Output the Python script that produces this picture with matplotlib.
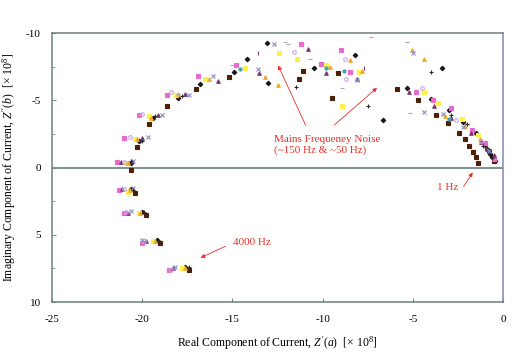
import matplotlib.pyplot as plt
from matplotlib.ticker import MultipleLocator

plt.rcParams['font.family'] = ['Liberation Serif', 'DejaVu Serif']
plt.rcParams['mathtext.fontset'] = 'custom'
plt.rcParams['mathtext.rm'] = 'Liberation Serif'
plt.rcParams['mathtext.it'] = 'Liberation Serif:italic'
plt.rcParams['axes.unicode_minus'] = False

# Data (x = Z'(a), y = Z''(b), both x 10^8)
black_x = [-17.6, -19.2, -20.0, -20.6, -20.6, -20.2, -19.4, -18.0, -16.8, -14.9, -14.2, -13.1, -13.0,
           -10.5, -8.2, -6.65, -3.4, -5.3, -4.0, -3.0, -2.2, -1.5, -1.0, -0.7, -0.45, -0.9, -0.6]
black_y = [7.4, 5.4, 3.3, 1.6, -0.3, -2.0, -3.7, -5.2, -6.2, -7.1, -8.1, -9.25, -6.3,
           -7.4, -8.4, -3.5, -7.4, -5.9, -5.1, -4.3, -3.4, -2.6, -1.7, -1.0, -0.5, -1.4, -0.8]

brown_x = [-17.4, -19.0, -19.8, -20.4, -20.6, -20.3, -19.6, -18.6, -17.0, -15.2, -11.1, -11.3, -9.15,
           -9.5, -5.9, -4.7, -3.7, -3.05, -2.45, -2.1, -1.9, -1.65, -1.5, -1.4, -0.8, -0.5]
brown_y = [7.6, 5.6, 3.5, 1.9, 0.2, -1.5, -3.2, -4.6, -5.8, -6.7, -7.2, -6.6, -7.0,
           -5.2, -5.8, -5.0, -3.9, -3.3, -2.6, -2.1, -1.6, -1.15, -0.8, -0.35, -1.2, -0.45]

pink_x = [-18.5, -20.0, -21.0, -21.3, -21.4, -21.0, -20.2, -18.6, -16.9, -14.8, -11.2, -9.0, -10.1,
          -8.5, -4.8, -3.9, -2.9, -1.7, -1.0, -0.5]
pink_y = [7.6, 5.6, 3.4, 1.7, -0.4, -2.2, -3.9, -5.4, -6.8, -7.6, -9.2, -8.7, -7.7,
          -7.1, -5.6, -5.0, -4.4, -2.8, -1.8, -0.6]

yellow_x = [-17.8, -19.4, -20.2, -20.8, -20.9, -20.4, -19.6, -18.1, -16.5, -14.3, -12.4, -11.4, -8.9,
            -9.8, -8.0, -4.4, -3.6, -2.3, -1.4]
yellow_y = [7.5, 5.5, 3.4, 1.8, -0.3, -2.1, -3.8, -5.4, -6.6, -7.4, -8.5, -8.1, -4.6,
            -7.6, -7.1, -5.6, -4.8, -3.6, -2.4]

orange_x = [-17.6, -19.3, -20.1, -20.7, -20.8, -20.3, -19.5, -18.0, -16.3, -13.2, -12.5, -8.5, -5.05,
            -4.4, -9.6, -7.8, -3.2, -2.1, -1.3]
orange_y = [7.5, 5.5, 3.4, 1.7, -0.3, -2.1, -3.7, -5.5, -6.6, -6.7, -6.1, -8.0, -8.7,
            -8.1, -7.5, -7.2, -3.8, -3.1, -2.1]

purple_x = [-18.3, -19.8, -20.8, -21.1, -21.2, -20.0, -19.1, -17.6, -15.8, -13.5, -10.8, -9.8, -8.1,
            -5.2, -3.8, -2.9, -1.8, -0.9, -0.5, -1.2]
purple_y = [7.5, 5.5, 3.4, 1.6, -0.4, -2.2, -3.9, -5.5, -6.4, -7.0, -8.8, -7.0, -6.6,
            -5.6, -4.6, -3.7, -2.6, -1.4, -0.9, -1.9]

violet_x = [-18.4, -19.9, -20.9, -21.0, -21.0, -20.7, -20.0, -18.4, -11.6, -8.75, -8.7, -4.5, -2.6, -1.2]
violet_y = [7.6, 5.5, 3.3, 1.6, -0.4, -2.3, -4.0, -5.6, -8.6, -8.1, -6.6, -5.9, -3.5, -2.0]

cross_x = [-18.2, -20.0, -20.6, -20.5, -20.5, -19.7, -18.9, -17.4, -16.1, -13.6, -12.7, -8.1, -5.0,
           -4.4, -3.3, -2.2, -0.8]
cross_y = [7.4, 5.4, 3.2, 1.5, -0.5, -2.3, -3.9, -5.4, -6.8, -7.3, -9.2, -6.5, -8.5,
           -4.1, -4.0, -3.0, -1.2]

plus_x = [-17.4, -19.1, -19.9, -20.5, -20.6, -20.0, -19.3, -17.8, -11.5, -7.5, -4.0, -2.9, -2.0, -1.1, -0.6]
plus_y = [7.4, 5.4, 3.3, 1.7, -0.5, -2.0, -3.8, -5.3, -6.0, -4.6, -7.1, -3.9, -3.2, -1.6, -0.7]

dash_x = [-12.1, -11.9, -7.3, -5.3, -8.9, -5.15, -15.0, -18.0, -10.7]
dash_y = [-9.3, -9.2, -9.7, -9.3, -5.9, -4.05, -7.6, -5.5, -8.1]

teal_x = [-9.8, -3.0, -14.6, -8.8]
teal_y = [-7.4, -3.6, -7.3, -7.2]

ibeam_x = [-13.6, -7.7]
ibeam_y = [-8.5, -7.4]

series = [
    (black_x, black_y, 'D', '#151515', 2.3, True),
    (brown_x, brown_y, 's', '#4a2008', 2.6, True),
    (pink_x, pink_y, 's', '#e86ad0', 2.6, True),
    (yellow_x, yellow_y, 's', '#fff04a', 2.6, True),
    (orange_x, orange_y, '^', '#f0a830', 2.6, True),
    (purple_x, purple_y, '^', '#7b3b6e', 2.6, True),
    (violet_x, violet_y, 'o', '#c9a6e8', 2.6, False),
    (cross_x, cross_y, 'x', '#8a8fbf', 2.6, True),
    (plus_x, plus_y, '+', '#2a2a2a', 2.8, True),
    (dash_x, dash_y, '_', '#9aaabb', 3.5, True),
    (teal_x, teal_y, 'o', '#4aa0b0', 2.3, True),
    (ibeam_x, ibeam_y, '|', '#7b3b6e', 3.5, True),
]

fig = plt.figure(figsize=(5.23, 3.58), dpi=100)
ax = fig.add_axes([0.0994, 0.1564, 0.8624, 0.7514])

ax.axhline(0, color='#6f8a86', linewidth=1.3, zorder=1)

for xs, ys, mk, col, ms, filled in series:
    if filled:
        ax.plot(xs, ys, linestyle='none', marker=mk, color=col, markersize=ms,
                markeredgewidth=0.8, zorder=3)
    else:
        ax.plot(xs, ys, linestyle='none', marker=mk, markerfacecolor='none',
                markeredgecolor=col, markersize=ms, markeredgewidth=0.8, zorder=3)

ax.set_xlim(-25, 0)
ax.set_ylim(10, -10)
ax.xaxis.set_major_locator(MultipleLocator(5))
ax.yaxis.set_major_locator(MultipleLocator(5))
ax.yaxis.set_minor_locator(MultipleLocator(2.5))
ax.tick_params(axis='both', which='major', direction='in', length=3, labelsize=8,
               color='#7a8a88')
ax.tick_params(axis='x', which='major', pad=9)
ax.tick_params(axis='y', which='major', pad=8)
ax.tick_params(axis='y', which='minor', direction='in', length=2, color='#7a8a88')

for side in ['left', 'top', 'bottom']:
    ax.spines[side].set_color('#6f7f7d')
    ax.spines[side].set_linewidth(1.1)
ax.spines['right'].set_color('#8888aa')
ax.spines['right'].set_linewidth(1.1)

ax.set_xlabel(r"Real Component of Current, $\mathit{Z'(a)}$  [$\times$ 10$^{8}$]", fontsize=8.5, labelpad=8)
ax.set_ylabel(r"Imaginary Component of Current, $\mathit{Z''(b)}$  [$\times$ 10$^{8}$]", fontsize=8.5, labelpad=6)

red = '#e8302a'
arrow_kw = dict(arrowstyle='-|>', color=red, lw=0.6, mutation_scale=6)
ax.text(-12.7, -1.67, "Mains Frequeney Noise\n(~150 Hz & ~50 Hz)", color=red, fontsize=8,
        ha='left', va='center', linespacing=1.25)
ax.annotate('', xy=(-12.53, -7.77), xytext=(-10.87, -2.94), arrowprops=arrow_kw)
ax.annotate('', xy=(-6.87, -6.06), xytext=(-9.48, -3.01), arrowprops=arrow_kw)
ax.text(-3.66, 1.52, "1 Hz", color=red, fontsize=8, ha='left', va='center')
ax.annotate('', xy=(-1.6, 0.19), xytext=(-2.27, 1.6), arrowprops=arrow_kw)
ax.text(-14.97, 5.6, "4000 Hz", color=red, fontsize=8, ha='left', va='center')
ax.annotate('', xy=(-16.9, 6.8), xytext=(-15.24, 5.76), arrowprops=arrow_kw)

fig.savefig('out.png', dpi=100)
